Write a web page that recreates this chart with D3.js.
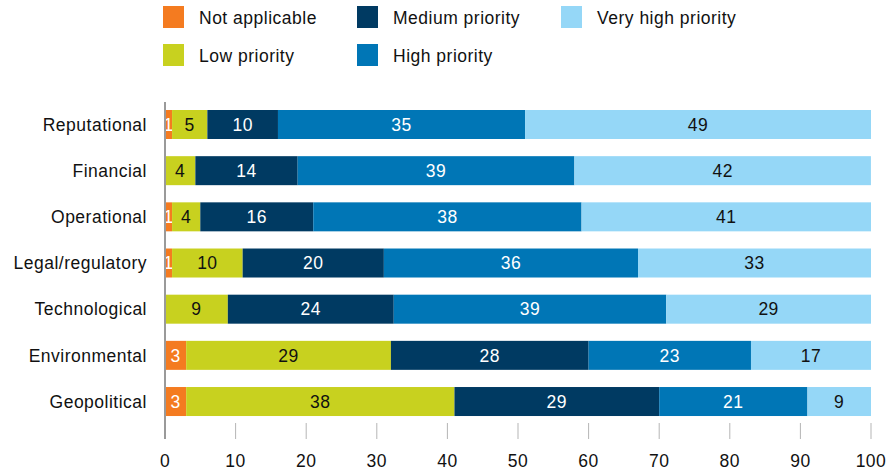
<!DOCTYPE html>
<html>
<head>
<script src="https://d3js.org/d3.v7.min.js"></script>
<style>
  body { margin: 0; background: #fff; }
  svg text { font-family: "Liberation Sans", Arial, Helvetica, sans-serif; letter-spacing: 0.5px; }
</style>
</head>
<body>
<script>

// categories, top to bottom
var categories = ["Reputational", "Financial", "Operational", "Legal/regulatory",
                  "Technological", "Environmental", "Geopolitical"];

var seriesNames = ["Not applicable", "Low priority", "Medium priority", "High priority", "Very high priority"];

// percent per category (labels are the rounded values)
var notApplicable = [1, 0, 1, 1, 0, 3, 3];
var lowPriority   = [5, 4.3, 4, 10, 8.9, 29, 38];
var mediumPriority = [10, 14.49, 16, 20, 23.5, 28, 29];
var highPriority  = [35, 39.2, 38, 36, 38.6, 23, 21];
var veryHighPriority = [49, 42, 41, 33, 29, 17, 9];

var xTicks = [0, 10, 20, 30, 40, 50, 60, 70, 80, 90, 100];

var colors = ["#f47b20", "#c8d11f", "#003a62", "#0076b6", "#95d7f7"];
var textColors = ["#fff", "#111", "#fff", "#fff", "#111"];

var series = [notApplicable, lowPriority, mediumPriority, highPriority, veryHighPriority];

var W = 893, H = 472;
var fs = 17.5;

var svg = d3.select("body").append("svg")
    .attr("width", W)
    .attr("height", H);

var x = d3.scaleLinear().domain([0, 100]).range([165, 871]);

var y = d3.scaleBand()
    .domain(categories)
    .range([110, 110 + 6 * 46.17 + 29])
    .paddingInner(0.372)
    .paddingOuter(0);

// build rows of stacked data
var rows = categories.map(function(c, i) {
  var row = { name: c };
  seriesNames.forEach(function(s, j) { row[s] = series[j][i]; });
  return row;
});

var stack = d3.stack().keys(seriesNames)(rows);

var layer = svg.selectAll(".layer")
    .data(stack)
    .enter().append("g")
    .attr("class", "layer")
    .attr("fill", function(d, i) { return colors[i]; });

layer.selectAll("rect")
    .data(function(d) { return d; })
    .enter().append("rect")
    .attr("x", function(d) { return x(d[0]); })
    .attr("y", function(d) { return y(d.data.name); })
    .attr("width", function(d) { return x(d[1]) - x(d[0]); })
    .attr("height", y.bandwidth());

layer.each(function(s, i) {
  d3.select(this).selectAll("text")
    .data(s.filter(function(d) { return d[1] - d[0] > 0; }))
    .enter().append("text")
    .attr("x", function(d) { return (x(d[0]) + x(d[1])) / 2; })
    .attr("y", function(d) { return y(d.data.name) + y.bandwidth() / 2; })
    .attr("dy", "0.36em")
    .attr("text-anchor", "middle")
    .attr("font-size", fs)
    .attr("fill", textColors[i])
    .text(function(d) { return Math.round(d[1] - d[0]); });
});

// category labels
svg.selectAll(".cat")
    .data(categories)
    .enter().append("text")
    .attr("class", "cat")
    .attr("x", 147)
    .attr("y", function(d) { return y(d) + y.bandwidth() / 2; })
    .attr("dy", "0.36em")
    .attr("text-anchor", "end")
    .attr("font-size", fs)
    .attr("fill", "#111")
    .text(function(d) { return d; });

// axis
var axis = svg.append("g");

axis.append("line")
    .attr("x1", x(0)).attr("x2", x(0))
    .attr("y1", 102).attr("y2", 439)
    .attr("stroke", "#9a9a9a")
    .attr("stroke-width", 2);

axis.selectAll(".tick")
    .data(xTicks.slice(1))
    .enter().append("line")
    .attr("x1", function(d) { return x(d); })
    .attr("x2", function(d) { return x(d); })
    .attr("y1", 423).attr("y2", 439)
    .attr("stroke", "#b5b5b5")
    .attr("stroke-width", 1);

axis.selectAll(".tlabel")
    .data(xTicks)
    .enter().append("text")
    .attr("x", function(d) { return x(d); })
    .attr("y", 461)
    .attr("dy", "0.36em")
    .attr("text-anchor", "middle")
    .attr("font-size", fs)
    .attr("fill", "#111")
    .text(function(d) { return d; });

// legend
var legendPos = [[163, 6], [163, 44], [357, 6], [357, 44], [561, 6]];

var legend = svg.selectAll(".legend")
    .data(seriesNames)
    .enter().append("g")
    .attr("class", "legend")
    .attr("transform", function(d, i) { return "translate(" + legendPos[i][0] + "," + legendPos[i][1] + ")"; });

legend.append("rect")
    .attr("width", 21)
    .attr("height", 22)
    .attr("fill", function(d, i) { return colors[i]; });

legend.append("text")
    .attr("x", 36)
    .attr("y", 12)
    .attr("dy", "0.36em")
    .attr("font-size", fs)
    .attr("fill", "#111")
    .text(function(d) { return d; });

</script>
</body>
</html>
